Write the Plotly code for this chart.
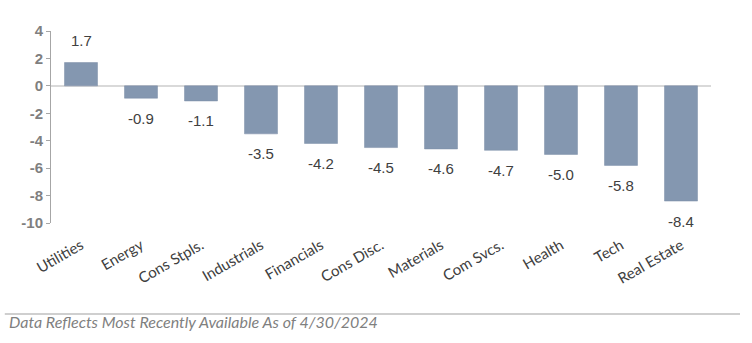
import plotly.graph_objects as go

categories = ["Utilities", "Energy", "Cons Stpls.", "Industrials", "Financials", "Cons Disc.",
              "Materials", "Com Svcs.", "Health", "Tech", "Real Estate"]
values = [1.7, -0.9, -1.1, -3.5, -4.2, -4.5, -4.6, -4.7, -5.0, -5.8, -8.4]
y_ticks = [4, 2, 0, -2, -4, -6, -8, -10]
footer = "Data Reflects Most Recently Available As of 4/30/2024"

fig = go.Figure()
fig.add_trace(go.Bar(
    x=categories, y=values,
    marker=dict(color="#8497B0", line=dict(color="#7a8da6", width=0.5)),
    width=0.55,
))

annotations = []
for c, v in zip(categories, values):
    annotations.append(dict(
        x=c, y=v, xref="x", yref="y", text=f"{v:.1f}", showarrow=False,
        yshift=22 if v >= 0 else -20,
        font=dict(family="Liberation Sans, Arial", size=15, color="#404040"),
    ))
annotations.append(dict(
    x=-0.066, y=-0.575, xref="paper", yref="paper", xanchor="left", yanchor="bottom",
    text=f"<i>{footer}</i>", showarrow=False,
    font=dict(family="Lato, Noto Sans", size=16, color="#7f7f7f"),
))

fig.update_layout(
    width=752, height=343,
    margin=dict(l=51, r=41, t=31, b=120),
    paper_bgcolor="white", plot_bgcolor="white",
    showlegend=False,
    annotations=annotations,
    shapes=[dict(type="line", xref="paper", yref="paper", x0=-0.07, x1=1.044, y0=-0.474, y1=-0.474,
                 layer="above", line=dict(color="#a0a0a0", width=1.2))],
    xaxis=dict(
        tickangle=-30, showgrid=False, showline=False, zeroline=False, ticks="",
        ticklabelstandoff=10,
        tickfont=dict(family="Lato, Noto Sans", size=15, color="#404040"),
    ),
    yaxis=dict(
        range=[-10, 4], tickvals=y_ticks, ticktext=[str(t) for t in y_ticks],
        showgrid=False, showline=True, linecolor="#a6a6a6", linewidth=1,
        ticks="outside", ticklen=4, tickcolor="#a6a6a6",
        zeroline=True, zerolinecolor="#d9d9d9", zerolinewidth=1.5,
        tickfont=dict(family="Liberation Sans, Arial", size=15, color="#7f7f7f", weight="bold"),
    ),
)

fig.write_html("out.html")
